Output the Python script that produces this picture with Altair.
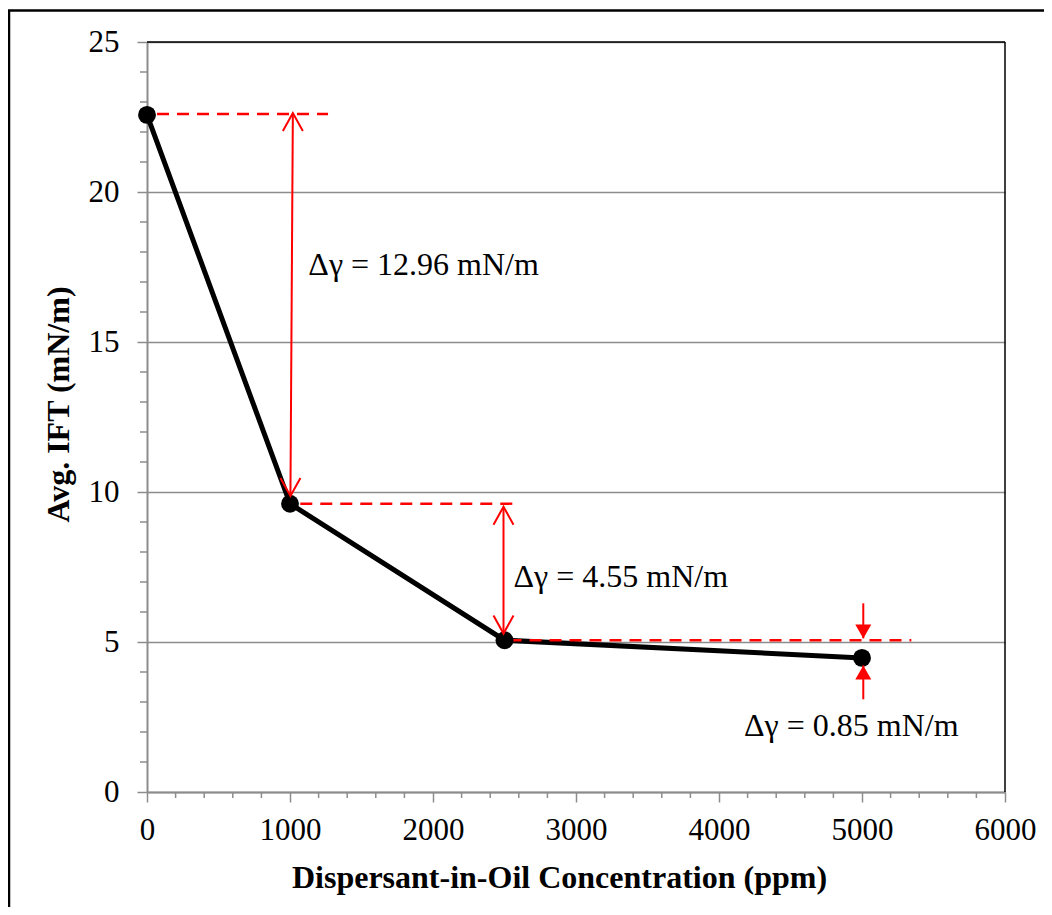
import altair as alt
import pandas as pd

# ---------------- data ----------------
conc = [0, 1000, 2500, 5000]
ift = [22.57, 9.61, 5.06, 4.47]

x_major = [0, 1000, 2000, 3000, 4000, 5000, 6000]
x_minor = [200, 400, 600, 800, 1200, 1400, 1600, 1800, 2200, 2400, 2600, 2800,
           3200, 3400, 3600, 3800, 4200, 4400, 4600, 4800, 5200, 5400, 5600, 5800]
y_major = [0, 5, 10, 15, 20, 25]
y_minor = [1, 2, 3, 4, 6, 7, 8, 9, 11, 12, 13, 14, 16, 17, 18, 19, 21, 22, 23, 24]

ref_level = [22.6, 9.61, 5.06]
ref_start = [70, 1072, 2535]
ref_end = [1266, 2577, 5345]

big_x_top = [1020, 2493]
big_y_top = [22.63, 9.51]
big_x_bot = [1003, 2493]
big_y_bot = [9.87, 5.28]

small_x = [5009, 5009]
small_tail = [6.29, 3.09]
small_tip = [5.12, 4.22]
small_dir = ["down", "up"]

delta_text = ["Δγ = 12.96 mN/m", "Δγ = 4.55 mN/m", "Δγ = 0.85 mN/m"]
delta_x = [1128, 2563, 4175]
delta_y = [17.25, 6.84, 1.88]

# ---------------- style ----------------
SERIF = "Liberation Serif"
GRAY = "#8c8c8c"
W, H = 858, 750

XS = alt.Scale(domain=[0, 6000], nice=False, zero=False)
YS = alt.Scale(domain=[0, 25], nice=False, zero=False)

x_axis = alt.Axis(
    values=x_major, format="d", title="Dispersant-in-Oil Concentration (ppm)",
    labelFont=SERIF, labelFontSize=31, labelColor="black", labelPadding=13,
    labelFlush=False, labelOverlap=False,
    tickSize=10, tickColor=GRAY, tickWidth=1.5,
    domainColor=GRAY, domainWidth=2, grid=False,
    titleFont=SERIF, titleFontSize=32, titleFontWeight="bold", titleColor="black",
    titleX=412, titleY=95, titleAlign="center", titleBaseline="alphabetic",
)
y_axis = alt.Axis(
    values=y_major, format="d", title="Avg. IFT (mN/m)",
    labelFont=SERIF, labelFontSize=31, labelColor="black", labelPadding=18,
    labelOverlap=False, labelFlush=False,
    tickSize=10, tickColor=GRAY, tickWidth=1.5,
    domainColor=GRAY, domainWidth=2,
    grid=True, gridColor=GRAY, gridWidth=1.3,
    titleFont=SERIF, titleFontSize=32, titleFontWeight="bold", titleColor="black",
    titleX=-79, titleY=362, titleAngle=270, titleAlign="center", titleBaseline="alphabetic",
)

df = pd.DataFrame({"conc": conc, "ift": ift})
one = pd.DataFrame({"k": [0]})

frame = alt.Chart(one).mark_rect(filled=False, stroke="black", strokeWidth=2.5).encode(
    x=alt.value(-138), x2=alt.value(W + 200), y=alt.value(-31.5), y2=alt.value(H + 200)
)

line = alt.Chart(df).mark_line(color="black", strokeWidth=5).encode(
    x=alt.X("conc:Q", scale=XS, axis=x_axis),
    y=alt.Y("ift:Q", scale=YS, axis=y_axis),
)

ymin = alt.Chart(pd.DataFrame({"v": y_minor})).mark_rule(color=GRAY, strokeWidth=1.5).encode(
    y=alt.Y("v:Q", scale=YS), x=alt.datum(0), x2=alt.value(-7)
)
xmin = alt.Chart(pd.DataFrame({"v": x_minor})).mark_rule(color=GRAY, strokeWidth=1.5).encode(
    x=alt.X("v:Q", scale=XS), y=alt.datum(0), y2=alt.value(H + 6)
)

top_border = alt.Chart(one).mark_rule(color="black", strokeWidth=1.5).encode(
    x=alt.datum(0), x2=alt.datum(6000), y=alt.datum(25)
)
right_border = alt.Chart(one).mark_rule(color="black", strokeWidth=1.5).encode(
    x=alt.datum(6000), y=alt.datum(0), y2=alt.datum(25)
)

df_ref = pd.DataFrame({"level": ref_level, "start": ref_start, "end": ref_end})
dashes = alt.Chart(df_ref).mark_rule(color="red", strokeWidth=2.4, strokeDash=[12, 8]).encode(
    x="start:Q", x2="end:Q", y="level:Q"
)

points = alt.Chart(df).mark_circle(size=320, color="black", opacity=1).encode(
    x="conc:Q", y="ift:Q"
)

df_big = pd.DataFrame({"xt": big_x_top, "yt": big_y_top, "xb": big_x_bot, "yb": big_y_bot})
big_lines = alt.Chart(df_big).mark_rule(color="red", strokeWidth=2).encode(
    x="xt:Q", x2="xb:Q", y="yt:Q", y2="yb:Q"
)
big_up = alt.Chart(df_big).mark_point(
    shape="M-1,1.8L0,0L1,1.8", filled=False, stroke="red", strokeWidth=2, size=400, opacity=1
).encode(x="xt:Q", y="yt:Q")
big_down = alt.Chart(df_big).mark_point(
    shape="M-1,-1.8L0,0L1,-1.8", filled=False, stroke="red", strokeWidth=2, size=400, opacity=1
).encode(x="xb:Q", y="yb:Q")

df_small = pd.DataFrame({"x": small_x, "tail": small_tail, "tip": small_tip, "dir": small_dir})
small_lines = alt.Chart(df_small).mark_rule(color="red", strokeWidth=2).encode(
    x="x:Q", y="tail:Q", y2="tip:Q"
)
small_down = alt.Chart(df_small).transform_filter("datum.dir == 'down'").mark_point(
    shape="M-1,-1.75L0,0L1,-1.75Z", filled=True, fill="red", size=256, opacity=1
).encode(x="x:Q", y="tip:Q")
small_up = alt.Chart(df_small).transform_filter("datum.dir == 'up'").mark_point(
    shape="M-1,1.75L0,0L1,1.75Z", filled=True, fill="red", size=256, opacity=1
).encode(x="x:Q", y="tip:Q")

df_txt = pd.DataFrame({"x": delta_x, "y": delta_y, "t": delta_text})
texts = alt.Chart(df_txt).mark_text(
    align="left", baseline="alphabetic", font=SERIF, fontSize=32, color="black"
).encode(x="x:Q", y="y:Q", text="t:N")

chart = alt.layer(
    line, frame, ymin, xmin, top_border, right_border, dashes, points,
    big_lines, big_up, big_down, small_lines, small_down, small_up, texts
).properties(
    width=W, height=H,
    padding={"left": 139, "top": 34, "right": 39, "bottom": 115},
    autosize=alt.AutoSizeParams(type="none"),
    background="white",
).configure_view(strokeWidth=0)

chart.save("out.html", embed_options={"renderer": "svg", "actions": False})
